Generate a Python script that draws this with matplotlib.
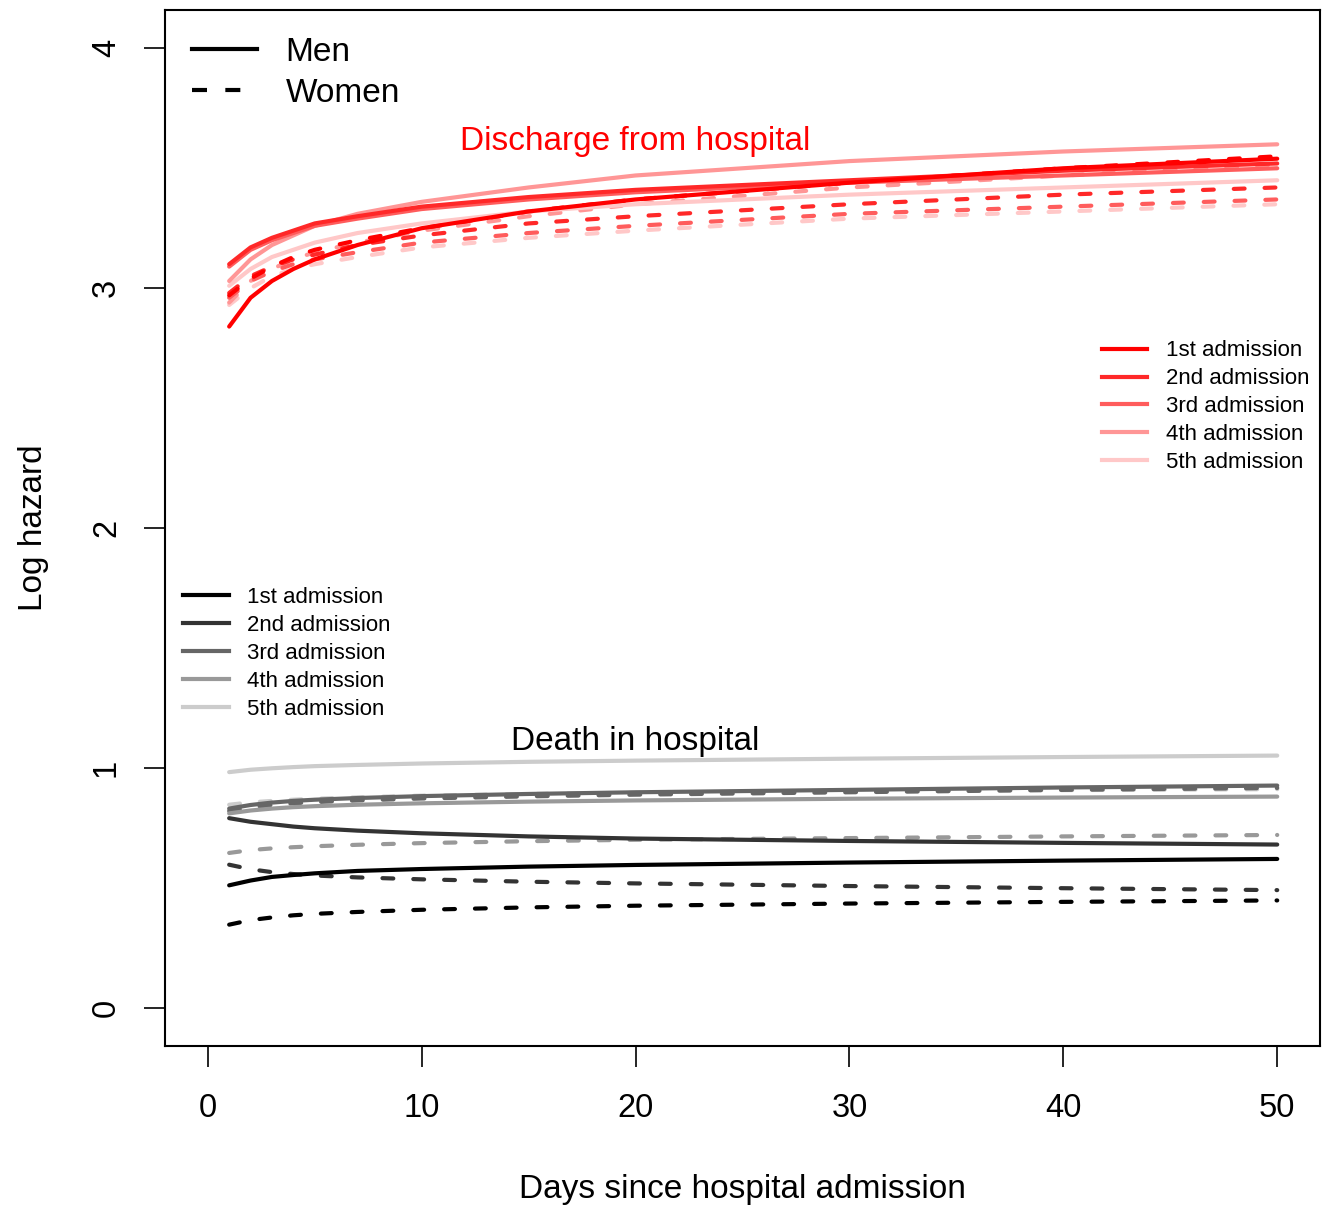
import matplotlib
matplotlib.use("Agg")
import matplotlib.pyplot as plt
from matplotlib.lines import Line2D

plt.rcParams['font.family'] = ['Liberation Sans', 'DejaVu Sans']

days = [1, 2, 3, 4, 5, 7, 10, 15, 20, 30, 40, 50]
admission_labels = ["1st admission", "2nd admission", "3rd admission", "4th admission", "5th admission"]

# Discharge from hospital – men (solid)
dis_men = [
    [2.84, 2.96, 3.03, 3.08, 3.12, 3.18, 3.25, 3.32, 3.37, 3.44, 3.50, 3.54],
    [3.10, 3.17, 3.21, 3.24, 3.27, 3.30, 3.34, 3.38, 3.41, 3.45, 3.49, 3.52],
    [3.09, 3.16, 3.20, 3.23, 3.26, 3.29, 3.33, 3.37, 3.40, 3.44, 3.47, 3.50],
    [3.03, 3.12, 3.18, 3.22, 3.26, 3.31, 3.36, 3.42, 3.47, 3.53, 3.57, 3.60],
    [3.01, 3.08, 3.13, 3.16, 3.19, 3.23, 3.27, 3.32, 3.35, 3.39, 3.42, 3.45],
]
# Discharge from hospital – women (dashed)
dis_women = [
    [2.97, 3.04, 3.09, 3.13, 3.16, 3.20, 3.25, 3.32, 3.37, 3.44, 3.50, 3.55],
    [2.98, 3.05, 3.09, 3.12, 3.14, 3.18, 3.22, 3.27, 3.30, 3.35, 3.39, 3.42],
    [2.96, 3.03, 3.07, 3.10, 3.12, 3.15, 3.19, 3.23, 3.26, 3.31, 3.34, 3.37],
    [2.94, 3.03, 3.08, 3.12, 3.15, 3.19, 3.24, 3.30, 3.35, 3.42, 3.47, 3.515],
    [2.93, 3.00, 3.05, 3.08, 3.10, 3.13, 3.17, 3.21, 3.24, 3.29, 3.32, 3.35],
]
# Death in hospital – men (solid)
death_men = [
    [0.51, 0.53, 0.545, 0.553, 0.56, 0.57, 0.578, 0.588, 0.595, 0.605, 0.613, 0.62],
    [0.79, 0.775, 0.765, 0.755, 0.748, 0.738, 0.727, 0.714, 0.705, 0.695, 0.687, 0.68],
    [0.83, 0.845, 0.855, 0.862, 0.867, 0.874, 0.882, 0.891, 0.898, 0.908, 0.918, 0.926],
    [0.81, 0.822, 0.83, 0.836, 0.84, 0.846, 0.852, 0.859, 0.864, 0.871, 0.876, 0.88],
    [0.982, 0.992, 0.998, 1.003, 1.007, 1.012, 1.018, 1.025, 1.030, 1.038, 1.045, 1.051],
]
# Death in hospital – women (dashed)
death_women = [
    [0.346, 0.365, 0.376, 0.385, 0.391, 0.399, 0.408, 0.418, 0.425, 0.434, 0.441, 0.447],
    [0.596, 0.577, 0.565, 0.557, 0.551, 0.543, 0.535, 0.525, 0.518, 0.507, 0.498, 0.49],
    [0.82, 0.835, 0.845, 0.852, 0.857, 0.864, 0.872, 0.881, 0.888, 0.898, 0.908, 0.916],
    [0.645, 0.657, 0.664, 0.669, 0.673, 0.679, 0.686, 0.694, 0.700, 0.707, 0.714, 0.72],
    [0.846, 0.856, 0.862, 0.867, 0.871, 0.877, 0.884, 0.891, 0.896, 0.903, 0.907, 0.911],
]

red_cols = ["#FF0000", "#FF2828", "#FF5C5C", "#FF9696", "#FFC8C8"]
gray_cols = ["#000000", "#333333", "#666666", "#999999", "#CCCCCC"]

xticks = [0, 10, 20, 30, 40, 50]
yticks = [0, 1, 2, 3, 4]

W, H = 1331, 1209
fig = plt.figure(figsize=(W / 100, H / 100), dpi=100)
ax = fig.add_axes([165 / W, 1 - 1046 / H, (1320 - 165) / W, (1046 - 10) / H])

LW = 3.0
dash = (2.6, 4.8)

def draw(series, cols, ls):
    for i in range(len(series) - 1, -1, -1):
        kw = dict(color=cols[i], lw=LW, solid_capstyle='round', dash_capstyle='round')
        if ls == 'dashed':
            ax.plot(days, series[i], linestyle=(0, dash), **kw)
        else:
            ax.plot(days, series[i], linestyle='-', **kw)

draw(death_women, gray_cols, 'dashed')
draw(death_men, gray_cols, 'solid')
draw(dis_women, red_cols, 'dashed')
draw(dis_men, red_cols, 'solid')

ax.set_xlim(-2, 52)
ax.set_ylim(-0.16, 4.16)
ax.set_xticks(xticks)
ax.set_yticks(yticks)
ax.set_xticklabels([str(t) for t in xticks], fontsize=23.5)
ax.set_yticklabels([str(t) for t in yticks], fontsize=23.5, rotation=90, va='center')
ax.tick_params(axis='both', length=15, width=1.2, direction='out')
ax.tick_params(axis='x', pad=19)
ax.tick_params(axis='y', pad=16)
for s in ax.spines.values():
    s.set_linewidth(1.5)

ax.set_xlabel("Days since hospital admission", fontsize=24, labelpad=36)
ax.set_ylabel("Log hazard", fontsize=24, labelpad=30)

ax.text(20, 3.61, "Discharge from hospital", color="#FF0000", fontsize=24, ha='center', va='center')
ax.text(20, 1.11, "Death in hospital", color="black", fontsize=24, ha='center', va='center')

# Sex legend
sex_handles = [Line2D([], [], color='black', lw=LW, linestyle='-'),
               Line2D([], [], color='black', lw=LW, linestyle=(0, (3.6, 4.4)))]
leg1 = ax.legend(sex_handles, ["Men", "Women"], loc='upper left',
                 bbox_to_anchor=(0.0234, 0.974), frameon=False, fontsize=24,
                 handlelength=1.95, handletextpad=0.85, labelspacing=0.3,
                 borderpad=0, borderaxespad=0)
ax.add_artist(leg1)

red_handles = [Line2D([], [], color=c, lw=LW) for c in red_cols]
leg2 = ax.legend(red_handles, admission_labels, loc='upper left',
                 bbox_to_anchor=(0.811, 0.681), frameon=False, fontsize=16,
                 handlelength=2.05, handletextpad=0.85, labelspacing=0.31,
                 borderpad=0, borderaxespad=0)
ax.add_artist(leg2)

gray_handles = [Line2D([], [], color=c, lw=LW) for c in gray_cols]
leg3 = ax.legend(gray_handles, admission_labels, loc='upper left',
                 bbox_to_anchor=(0.0156, 0.443), frameon=False, fontsize=16,
                 handlelength=2.05, handletextpad=0.85, labelspacing=0.31,
                 borderpad=0, borderaxespad=0)

fig.savefig("out.png", dpi=100)
